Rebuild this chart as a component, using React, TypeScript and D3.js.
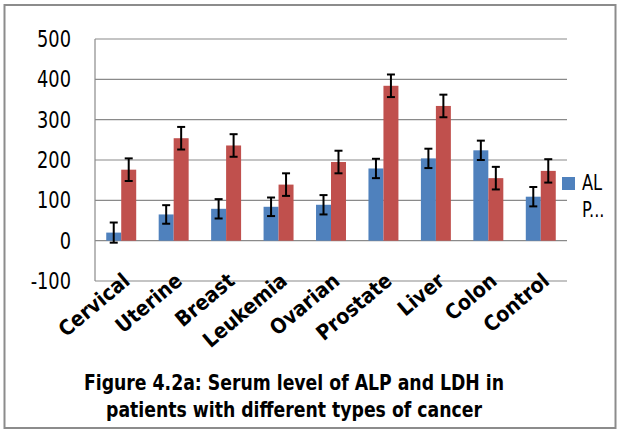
import React from "react";
import * as d3 from "d3";

const categories = ["Cervical", "Uterine", "Breast", "Leukemia", "Ovarian", "Prostate", "Liver", "Colon", "Control"];
const alpValues = [20, 65, 79, 84, 89, 179, 204, 224, 109];
const alpErrors = [25, 23, 24, 23, 24, 24, 24, 24, 24];
const ldhValues = [176, 254, 236, 139, 195, 384, 334, 155, 173];
const ldhErrors = [28, 28, 28, 28, 28, 28, 28, 28, 29];
const seriesNames = ["ALP", "LDH"];
const yTicks = [-100, 0, 100, 200, 300, 400, 500];
const titleLines = ["Figure 4.2a: Serum level of ALP and LDH in", "patients with different types of cancer"];

const W = 620;
const H = 432;
const plot = { left: 95, right: 567, top: 39, bottom: 281 };
const colors = ["#4F81BD", "#C0504D"];
const SX = 0.86;
const font = "'DejaVu Sans Condensed', 'DejaVu Sans', sans-serif";

export default function App() {
  const x0 = d3.scaleBand<string>().domain(categories).range([plot.left, plot.right]).padding(0);
  const x1 = d3.scaleBand<string>().domain(seriesNames).range([0, x0.bandwidth()]).paddingInner(0).paddingOuter(0.75);
  const y = d3.scaleLinear().domain([-100, 500]).range([plot.bottom, plot.top]);

  const series = [
    { name: "ALP", values: alpValues, errors: alpErrors },
    { name: "LDH", values: ldhValues, errors: ldhErrors },
  ];

  return (
    <svg width={W} height={H} style={{ position: "absolute", left: 0, top: 0, background: "#fff" }}>
      <rect x={4.5} y={5} width={611} height={423} fill="#fff" stroke="#8c8c8c" strokeWidth={2} />
      {yTicks.map((t) => (
        <line key={t} x1={plot.left} x2={plot.right} y1={y(t)} y2={y(t)} stroke="#8a8a8a" strokeWidth={1.2} />
      ))}
      <line x1={plot.left} x2={plot.left} y1={plot.top} y2={plot.bottom} stroke="#8a8a8a" strokeWidth={1.2} />
      {yTicks.map((t) => (
        <g key={t} transform={`translate(71,${y(t) + 8})`}>
          <text transform={`scale(${SX},1)`} textAnchor="end" fontFamily={font} fontSize={23} fill="#000">
            {t}
          </text>
        </g>
      ))}
      {series.map((s, si) =>
        categories.map((c, i) => {
          const bx = (x0(c) ?? 0) + (x1(s.name) ?? 0);
          const bw = x1.bandwidth();
          const v = s.values[i];
          const e = s.errors[i];
          const cx = bx + bw / 2;
          return (
            <g key={s.name + c}>
              <rect x={bx} y={y(Math.max(0, v))} width={bw} height={Math.abs(y(v) - y(0))} fill={colors[si]} />
              <line x1={cx} x2={cx} y1={y(v + e)} y2={y(v - e)} stroke="#000" strokeWidth={2} />
              <line x1={cx - 4} x2={cx + 4} y1={y(v + e)} y2={y(v + e)} stroke="#000" strokeWidth={2} />
              <line x1={cx - 4} x2={cx + 4} y1={y(v - e)} y2={y(v - e)} stroke="#000" strokeWidth={2} />
            </g>
          );
        })
      )}
      {categories.map((c) => {
        const cx = (x0(c) ?? 0) + x0.bandwidth() / 2;
        return (
          <g key={c} transform={`translate(${cx + 10},${plot.bottom + 2}) rotate(-40)`}>
            <text textAnchor="end" fontFamily={font} fontWeight="bold" fontSize={21} fill="#000">
              {c}
            </text>
          </g>
        );
      })}
      <rect x={562} y={177} width={13} height={13} fill={colors[0]} />
      <g transform="translate(582,190)">
        <text transform={`scale(${SX},1)`} fontFamily={font} fontSize={21} fill="#000">AL</text>
      </g>
      <g transform="translate(582,217)">
        <text transform={`scale(${SX},1)`} fontFamily={font} fontSize={21} fill="#000">P...</text>
      </g>
      {titleLines.map((l, i) => (
        <g key={i} transform={`translate(294,${390 + i * 27})`}>
          <text transform={`scale(0.915,1)`} textAnchor="middle" fontFamily={font} fontWeight="bold" fontSize={21} fill="#000">
            {l}
          </text>
        </g>
      ))}
    </svg>
  );
}
